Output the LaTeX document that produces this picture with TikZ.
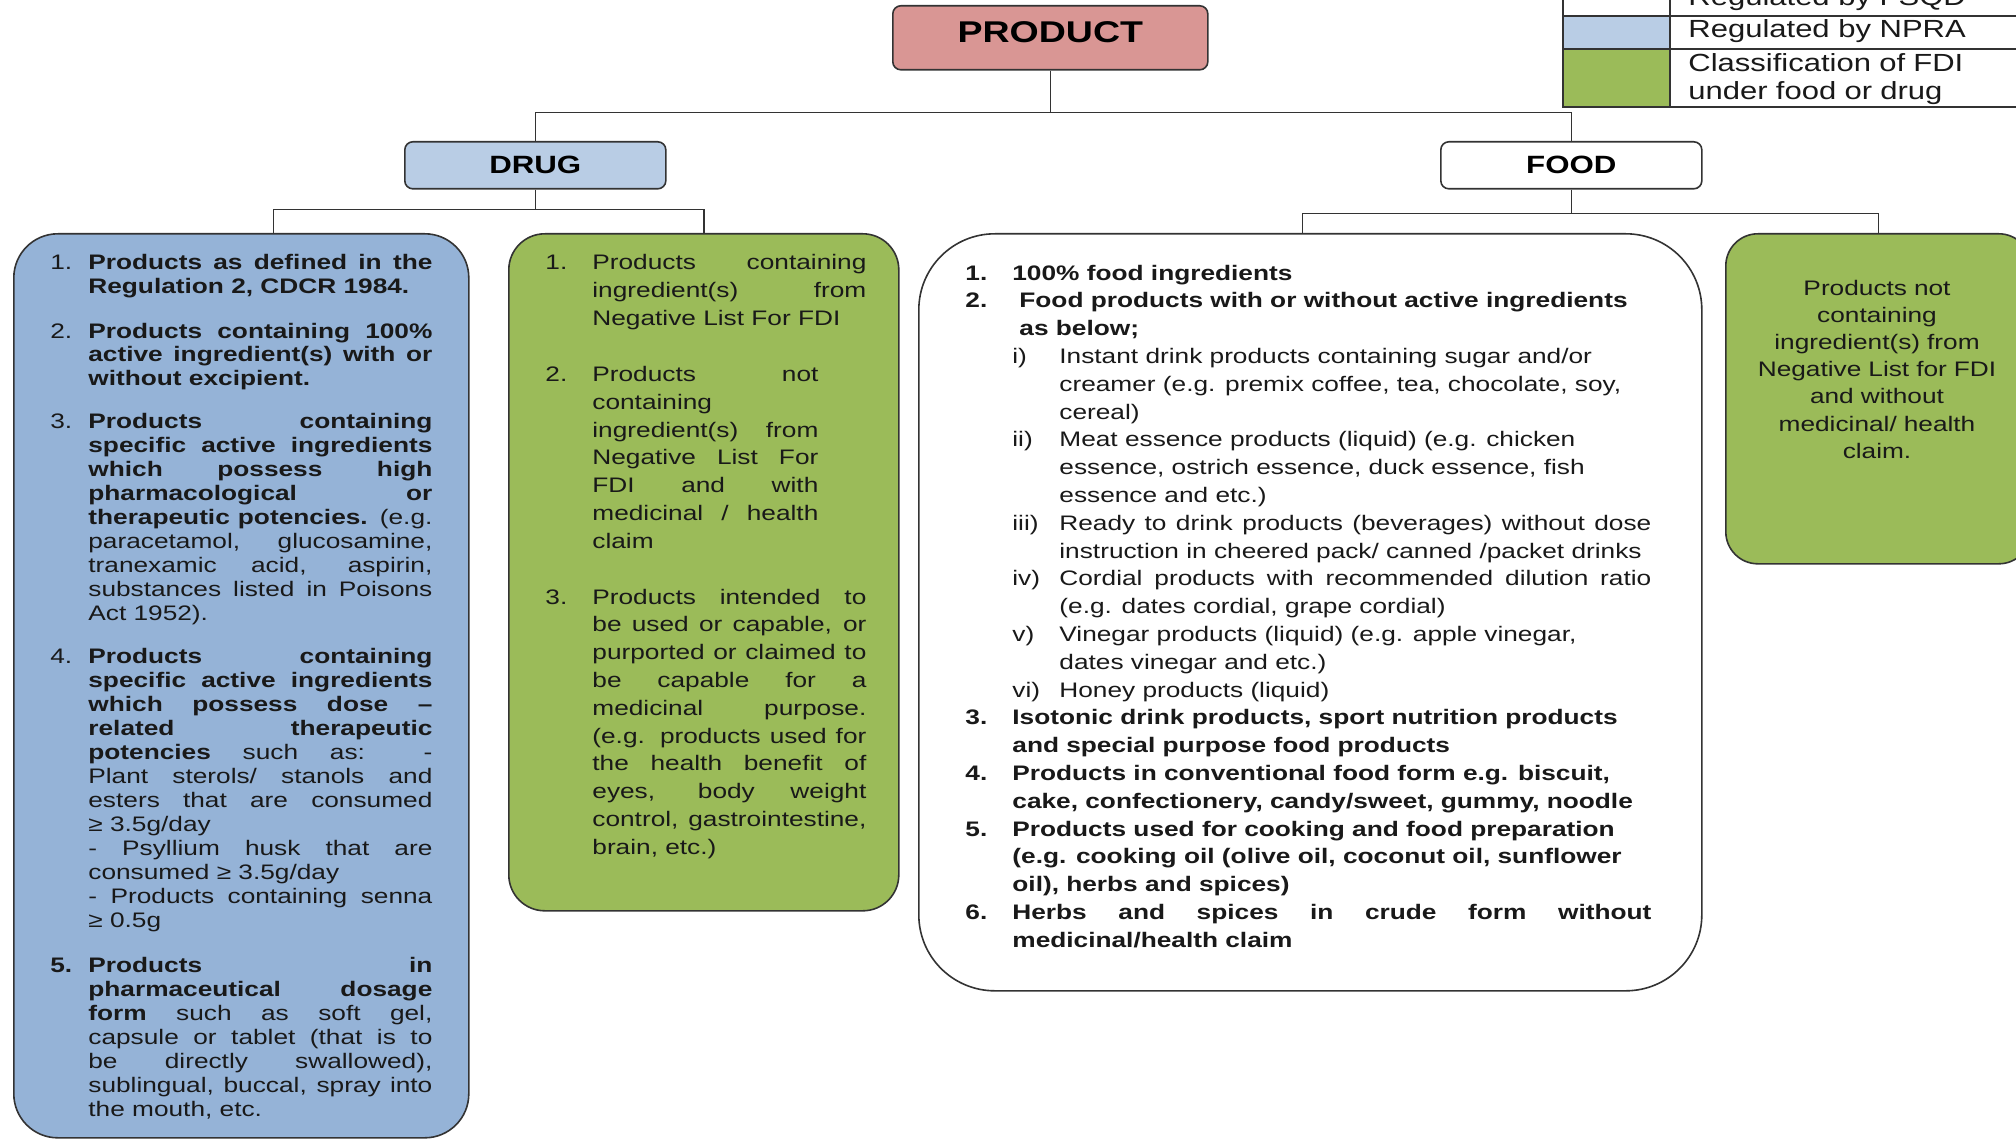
\documentclass[tikz,border=0pt]{standalone}
\usepackage{fontspec}
\setmainfont[FakeStretch=1.25]{Liberation Sans}
\definecolor{productred}{HTML}{D99694}
\definecolor{drughead}{HTML}{B9CDE5}
\definecolor{drugblue}{HTML}{95B3D7}
\definecolor{fdigreen}{HTML}{9BBB59}
\newcommand{\numlbl}[2]{\noindent\llap{\hbox to #1{#2\hfil}}}
\hbadness=10000
\hfuzz=4pt

\begin{document}
\begin{tikzpicture} [
        x=0.5pt, y=-0.5pt,
        box/.style = {draw=black!80, line width=0.8pt, anchor=north west, inner sep=0pt},
        head/.style = {box, rounded corners=4pt, font=\bfseries\fontsize{12.5}{14}\selectfont},
        panel/.style = {box},
        list text/.style = {anchor=base west, inner sep=0pt, align=justify, text=black!90},
        edge/.style = {draw=black!80, line width=0.8pt},
        key/.style = {draw=black!80, line width=0.8pt},
        key text/.style = {anchor=base west, inner sep=0pt, text=black!90, font=\fontsize{12.4}{14}\selectfont},
    ]
    \useasboundingbox (0,0) rectangle (2016,1139);
    % heads
    \node[head, fill=productred, minimum width=157.5pt, minimum height=32pt, text depth=6pt,
        font=\bfseries\fontsize{15}{17}\selectfont] (product) at (892,5) {PRODUCT};
    \node[head, fill=drughead, minimum width=130.5pt, minimum height=23.5pt] (drug) at (404,141) {DRUG};
    \node[head, fill=white, minimum width=130.5pt, minimum height=23.5pt] (food) at (1440,141) {FOOD};
    % panels
    \node[panel, fill=drugblue, rounded corners=22pt, minimum width=227.5pt, minimum height=452pt] (drugA) at (13,233) {};
    \node[panel, fill=fdigreen, rounded corners=18pt, minimum width=195pt, minimum height=338.5pt] (drugB) at (508,233) {};
    \node[panel, fill=white, rounded corners=38pt, minimum width=391.5pt, minimum height=378.5pt] (foodA) at (918,233) {};
    \node[panel, fill=fdigreen, rounded corners=16pt, minimum width=152.5pt, minimum height=165pt] (foodB) at (1725,233) {};
    % connectors
    \foreach \source/\dest/\drop/\shift in {
            product/drug/42/0, product/food/42/0,
            drug/drugA/20/16, drug/drugB/20/0,
            food/foodA/24/-4, food/foodB/24/0}
        \path[edge] (\source.south) -- ++(0,\drop) -| ([xshift=\shift pt]\dest.north);
    % legend
    \foreach \name/\top/\bottom/\colour in {
            FSQD/-40/16/white, NPRA/16/49/drughead, FDI/49/107/fdigreen} {
        \path[key, fill=\colour] (1563,\top) rectangle (1670,\bottom);
        \path[key] (1670,\top) rectangle (2060,\bottom);
    }
    \node[key text] (keyFSQD) at (1688,6) {Regulated by FSQD};
    \node[key text] (keyNPRA) at (1688,38) {Regulated by NPRA};
    \node[key text, text width=160pt, align=left] (keyFDI) at (1688,72) {Classification of FDI\\under food or drug};
    % drug lists
    \node[list text, text width=191pt, font=\fontsize{10.5}{12}\selectfont] (drugAtext) at (50,270) {%
        \setlength{\leftskip}{19pt}%
        \numlbl{19pt}{1.}\textbf{Products as defined in the\linebreak Regulation 2, CDCR 1984.}\par
        \vspace{10pt}%
        \numlbl{19pt}{2.}\textbf{Products containing 100\%\linebreak active ingredient(s) with or\linebreak without excipient.}\par
        \vspace{9pt}%
        \numlbl{19pt}{3.}\textbf{Products containing\linebreak specific active ingredients\linebreak which possess high\linebreak
            pharmacological or\linebreak therapeutic potencies.} (e.g.\linebreak paracetamol, glucosamine,\linebreak
            tranexamic acid, aspirin,\linebreak substances listed in Poisons\linebreak Act 1952).\par
        \vspace{9.5pt}%
        \numlbl{19pt}{4.}\textbf{Products containing\linebreak specific active ingredients\linebreak which possess dose --\linebreak
            related therapeutic\linebreak potencies} such as: -\linebreak Plant sterols/ stanols and\linebreak
            esters that are consumed\linebreak ≥ 3.5g/day\\- Psyllium husk that are\linebreak consumed ≥ 3.5g/day\\
            - Products containing senna\linebreak ≥ 0.5g\par
        \vspace{10.5pt}%
        \numlbl{19pt}{\textbf{5.}}\textbf{Products in\linebreak pharmaceutical dosage\linebreak form} such as soft gel,\linebreak
            capsule or tablet (that is to\linebreak be directly swallowed),\linebreak sublingual, buccal, spray into\linebreak
            the mouth, etc.\par};
    \node[list text, text width=160.5pt, font=\fontsize{10.5}{13.9}\selectfont] (drugBtext) at (545,270) {%
        \setlength{\leftskip}{23.5pt}%
        \numlbl{23.5pt}{1.}Products containing\linebreak ingredient(s) from\linebreak Negative List For FDI\par
        \vspace{14pt}%
        {\setlength{\rightskip}{24pt}%
        \numlbl{23.5pt}{2.}Products not\linebreak containing\\ingredient(s) from\linebreak Negative List For\linebreak
            FDI and with\linebreak medicinal / health\linebreak claim\par}
        \vspace{14pt}%
        \numlbl{23.5pt}{3.}Products intended to\linebreak be used or capable, or\linebreak purported or claimed to\linebreak
            be capable for a\linebreak medicinal purpose.\linebreak (e.g. products used for\linebreak the health benefit of\linebreak
            eyes, body weight\linebreak control, gastrointestine,\linebreak brain, etc.)\par};
    % food lists
    \node[list text, text width=343pt, font=\fontsize{10.5}{13.9}\selectfont] (foodAtext) at (965,280) {%
        \setlength{\leftskip}{23.5pt}%
        \numlbl{23.5pt}{\textbf{1.}}\textbf{100\% food ingredients}\par
        {\setlength{\leftskip}{27pt}%
        \numlbl{27pt}{\textbf{2.}}\textbf{Food products with or without active ingredients\\as below;}\par}
        {\setlength{\leftskip}{47pt}%
        \numlbl{23.5pt}{i)}Instant drink products containing sugar and/or\\creamer (e.g. premix coffee, tea, chocolate, soy,\\cereal)\par
        \numlbl{23.5pt}{ii)}Meat essence products (liquid) (e.g. chicken\\essence, ostrich essence, duck essence, fish\\essence and etc.)\par
        \numlbl{23.5pt}{iii)}Ready to drink products (beverages) without dose\linebreak instruction in cheered pack/ canned /packet drinks\par
        \numlbl{23.5pt}{iv)}Cordial products with recommended dilution ratio\linebreak (e.g. dates cordial, grape cordial)\par
        \numlbl{23.5pt}{v)}Vinegar products (liquid) (e.g. apple vinegar,\\dates vinegar and etc.)\par
        \numlbl{23.5pt}{vi)}Honey products (liquid)\par}
        \numlbl{23.5pt}{\textbf{3.}}\textbf{Isotonic drink products, sport nutrition products\\and special purpose food products}\par
        \numlbl{23.5pt}{\textbf{4.}}\textbf{Products in conventional food form e.g. biscuit,\\cake, confectionery, candy/sweet, gummy, noodle}\par
        \numlbl{23.5pt}{\textbf{5.}}\textbf{Products used for cooking and food preparation\\(e.g. cooking oil (olive oil, coconut oil, sunflower\\oil), herbs and spices)}\par
        \numlbl{23.5pt}{\textbf{6.}}\textbf{Herbs and spices in crude form without\linebreak medicinal/health claim}\par};
    \node[anchor=base, inner sep=0pt, text width=125pt, align=center, text=black!90,
        font=\fontsize{10.5}{13.6}\selectfont] (foodBtext) at (1877,295) {%
        Products not\\containing\\ingredient(s) from\\Negative List for FDI\\and without\\medicinal/ health\\claim.};
\end{tikzpicture}
\end{document}
